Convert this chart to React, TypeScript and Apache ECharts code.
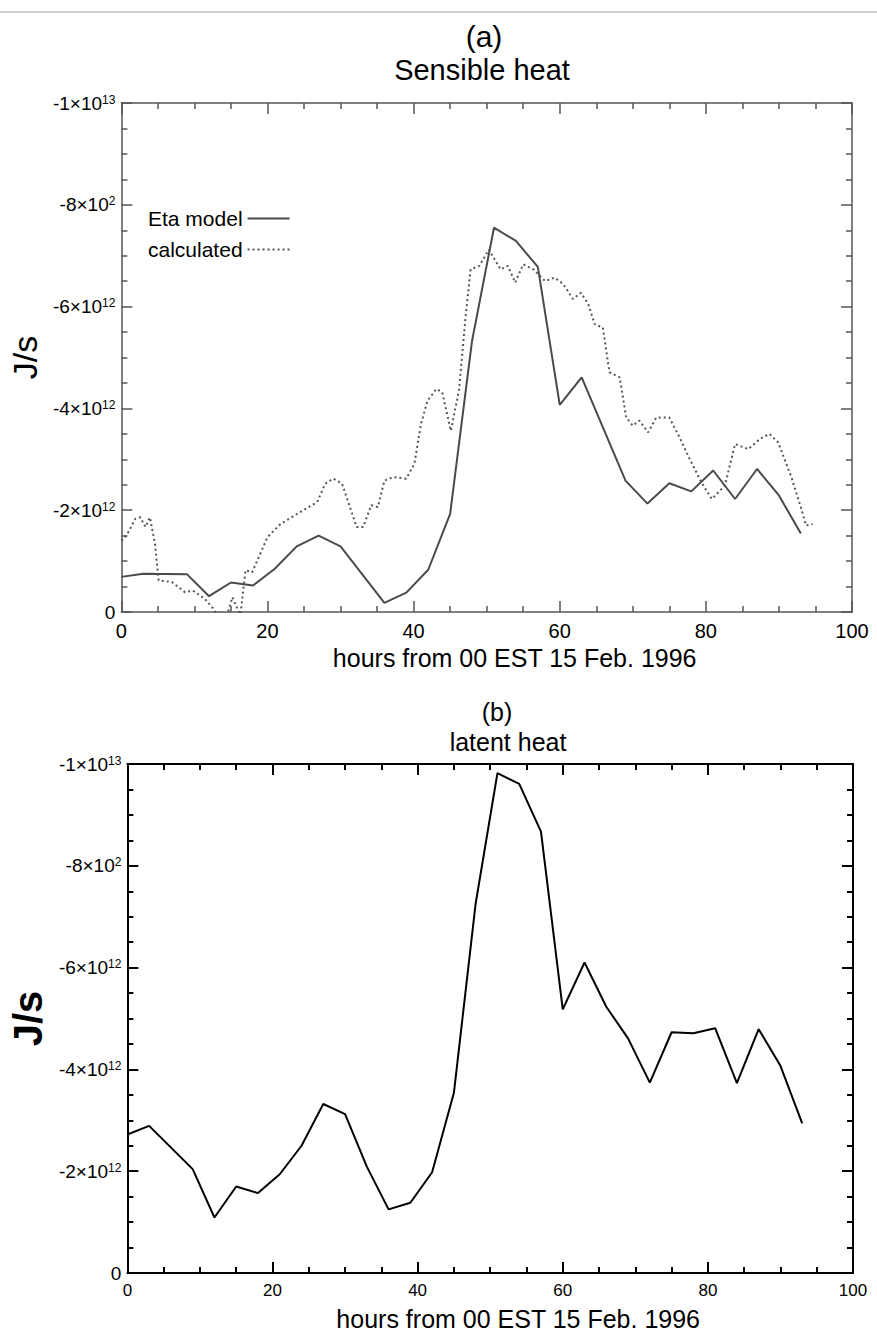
import React, { useEffect, useRef } from "react";
import * as echarts from "echarts";

// ---------- data (J/s) ----------
// (a) Sensible heat — Eta model, hours from 00 EST 15 Feb 1996
const etaHours = [0, 3, 9, 12, 15, 18, 21, 24, 27, 30, 36, 39, 42, 45, 48, 51, 54, 57, 60, 63, 69, 72, 75, 78, 81, 84, 87, 90, 93];
const etaValues = [
  -0.69e12, -0.75e12, -0.74e12, -0.31e12, -0.58e12, -0.52e12, -0.85e12, -1.29e12, -1.5e12, -1.29e12,
  -0.18e12, -0.38e12, -0.83e12, -1.93e12, -5.33e12, -7.55e12, -7.29e12, -6.78e12, -4.07e12, -4.61e12,
  -2.58e12, -2.13e12, -2.53e12, -2.37e12, -2.78e12, -2.22e12, -2.81e12, -2.29e12, -1.54e12,
];

// (a) Sensible heat — calculated
const calcHours = [
  0, 0.7, 1.9, 2.6, 3.3, 3.9, 4.6, 5.1, 6.9, 8.7, 9.8, 11.4, 12.8, 13.7, 14.6, 15.2, 15.9, 16.3, 17.0, 17.9,
  20.0, 21.8, 24.1, 26.8, 27.9, 29.0, 30.2, 32.2, 33.1, 34.2, 35.1, 36.0, 37.2, 39.0, 40.1, 41.0, 41.9, 43.1,
  43.9, 45.1, 46.2, 47.1, 47.8, 49.0, 50.3, 51.9, 52.9, 53.9, 55.0, 56.4, 58.0, 59.3, 60.5, 61.8, 62.9, 63.9,
  64.8, 65.9, 66.8, 68.2, 69.1, 70.0, 70.9, 72.1, 73.2, 75.0, 76.6, 77.9, 79.5, 80.8, 82.6, 84.0, 85.8, 87.4,
  88.7, 89.9, 91.7, 93.0, 93.7, 94.6,
];
const calcValues = [
  -1.4e12, -1.5e12, -1.83e12, -1.86e12, -1.67e12, -1.86e12, -1.34e12, -0.62e12, -0.59e12, -0.39e12,
  -0.42e12, -0.26e12, -0.03e12, 0.3e12, 0.0, -0.29e12, -0.06e12, 0.05e12, -0.82e12, -0.78e12,
  -1.47e12, -1.73e12, -1.93e12, -2.16e12, -2.52e12, -2.62e12, -2.52e12, -1.67e12, -1.67e12, -2.1e12,
  -2.06e12, -2.58e12, -2.65e12, -2.62e12, -2.91e12, -3.69e12, -4.15e12, -4.38e12, -4.32e12, -3.56e12,
  -4.35e12, -5.78e12, -6.73e12, -6.8e12, -7.12e12, -6.73e12, -6.8e12, -6.47e12, -6.83e12, -6.73e12,
  -6.5e12, -6.57e12, -6.44e12, -6.15e12, -6.27e12, -6.05e12, -5.65e12, -5.59e12, -4.71e12, -4.61e12,
  -3.82e12, -3.66e12, -3.76e12, -3.53e12, -3.82e12, -3.82e12, -3.37e12, -2.97e12, -2.52e12, -2.22e12,
  -2.48e12, -3.3e12, -3.2e12, -3.4e12, -3.5e12, -3.33e12, -2.65e12, -2.06e12, -1.7e12, -1.73e12,
];

// (b) latent heat
const latentHours = [0, 3, 9, 12, 15, 18, 21, 24, 27, 30, 33, 36, 39, 42, 45, 48, 51, 54, 57, 60, 63, 66, 69, 72, 75, 78, 81, 84, 87, 90, 93];
const latentValues = [
  -2.72e12, -2.89e12, -2.04e12, -1.09e12, -1.7e12, -1.57e12, -1.94e12, -2.5e12, -3.32e12, -3.12e12,
  -2.09e12, -1.25e12, -1.38e12, -1.98e12, -3.54e12, -7.26e12, -9.82e12, -9.61e12, -8.67e12, -5.18e12,
  -6.1e12, -5.23e12, -4.61e12, -3.74e12, -4.73e12, -4.71e12, -4.81e12, -3.73e12, -4.79e12, -4.07e12,
  -2.94e12,
];

// tick labels
const yTickValues = [0, -2e12, -4e12, -6e12, -8e12, -1e13];
const yTickLabels = ["{n|0}", "{n|-2×10}{s|12}", "{n|-4×10}{s|12}", "{n|-6×10}{s|12}", "{n|-8×10}{s|2}", "{n|-1×10}{s|13}"];
const xTitle = "hours from 00 EST 15 Feb. 1996";
const seriesNames = ["Eta model", "calculated"];

const FONT = "'Liberation Sans', Arial, Helvetica, sans-serif";

function pairs(xs: number[], ys: number[]) {
  return xs.map((x, i) => [x, ys[i]]);
}

function yFormatter(v: number) {
  const i = yTickValues.findIndex((t) => Math.abs(t - v) < 1e9);
  return i >= 0 ? yTickLabels[i] : "";
}

function makeAxes(grid: number, color: string, lw: number, xFont: number, yFont: number, supFont: number, xNameFont: number, yNameFont: number, yNameWeight: string, yNameGap: number) {
  const tickStyle = { color, width: lw };
  const xBase = {
    type: "value",
    gridIndex: grid,
    min: 0,
    max: 100,
    interval: 20,
    splitLine: { show: false },
    axisLine: { show: true, onZero: false, lineStyle: { color, width: lw } },
    axisTick: { show: true, inside: true, length: 11, lineStyle: tickStyle },
    minorTick: { show: true, splitNumber: 4, length: 6, lineStyle: tickStyle },
  };
  const yBase = {
    type: "value",
    gridIndex: grid,
    min: -1e13,
    max: 0,
    interval: 2e12,
    inverse: true,
    splitLine: { show: false },
    axisLine: { show: true, onZero: false, lineStyle: { color, width: lw } },
    axisTick: { show: true, inside: true, length: 11, lineStyle: tickStyle },
    minorTick: { show: true, splitNumber: 4, length: 6, lineStyle: tickStyle },
  };
  const xAxes = [
    {
      ...xBase,
      position: "bottom",
      name: xTitle,
      nameLocation: "middle",
      nameGap: 33,
      nameTextStyle: { fontFamily: FONT, fontSize: xNameFont, color: "#000", padding: [0, 0, 0, 56] },
      axisLabel: { show: true, fontFamily: FONT, fontSize: xFont, color: "#000", margin: 9 },
    },
    { ...xBase, position: "top", axisLabel: { show: false } },
  ];
  const yAxes = [
    {
      ...yBase,
      position: "left",
      name: "J/s",
      nameLocation: "middle",
      nameRotate: 90,
      nameGap: yNameGap,
      nameTextStyle: { fontFamily: FONT, fontSize: yNameFont, fontWeight: yNameWeight, color: "#000" },
      axisLabel: {
        show: true,
        margin: 6,
        formatter: yFormatter,
        rich: {
          n: { fontFamily: FONT, fontSize: yFont, color: "#000" },
          s: { fontFamily: FONT, fontSize: supFont, color: "#000", verticalAlign: "top", padding: [0, 0, yFont - supFont, 0] },
        },
      },
    },
    { ...yBase, position: "right", axisLabel: { show: false } },
  ];
  return { xAxes, yAxes };
}

export default function App() {
  const ref = useRef<HTMLDivElement>(null);
  useEffect(() => {
    document.body.style.margin = "0";
    const chart = echarts.init(ref.current!, null, { renderer: "svg" });
    const a = makeAxes(0, "#555", 1.5, 20, 19, 12, 25, 34, "normal", 66);
    const b = makeAxes(1, "#000", 2, 17, 19, 12, 25, 40, "bold", 78);
    const option: any = {
      animation: false,
      backgroundColor: "#fff",
      grid: [
        { left: 116, top: 103, width: 736, height: 509 },
        { left: 126, top: 764, width: 727, height: 509 },
      ],
      xAxis: [...a.xAxes, ...b.xAxes],
      yAxis: [...a.yAxes, ...b.yAxes],
      legend: {
        show: true,
        data: seriesNames,
        orient: "vertical",
        align: "right",
        left: 143,
        top: 203,
        itemWidth: 42,
        itemHeight: 14,
        itemGap: 10,
        itemStyle: { opacity: 0 },
        textStyle: { fontFamily: FONT, fontSize: 21, color: "#000" },
      },
      graphic: [
        { type: "line", shape: { x1: 0, y1: 12, x2: 877, y2: 12 }, style: { stroke: "#cfcfcf", lineWidth: 2 } },
        { type: "text", x: 484, y: 36, style: { text: "(a)", font: `30px ${FONT}`, fill: "#000", textAlign: "center", textVerticalAlign: "middle" } },
        { type: "text", x: 482, y: 70, style: { text: "Sensible heat", font: `29px ${FONT}`, fill: "#000", textAlign: "center", textVerticalAlign: "middle" } },
        { type: "text", x: 497, y: 712, style: { text: "(b)", font: `25px ${FONT}`, fill: "#000", textAlign: "center", textVerticalAlign: "middle" } },
        { type: "text", x: 508, y: 742, style: { text: "latent heat", font: `25px ${FONT}`, fill: "#000", textAlign: "center", textVerticalAlign: "middle" } },
      ],
      series: [
        {
          name: seriesNames[0],
          type: "line",
          xAxisIndex: 0,
          yAxisIndex: 0,
          data: pairs(etaHours, etaValues),
          symbol: "none",
          clip: true,
          lineStyle: { color: "#4a4a4a", width: 2, type: "solid" },
          itemStyle: { color: "#4a4a4a" },
        },
        {
          name: seriesNames[1],
          type: "line",
          xAxisIndex: 0,
          yAxisIndex: 0,
          data: pairs(calcHours, calcValues),
          symbol: "none",
          clip: true,
          lineStyle: { color: "#555", width: 2, type: [2, 3] },
          itemStyle: { color: "#555" },
        },
        {
          name: "latent heat",
          type: "line",
          xAxisIndex: 2,
          yAxisIndex: 2,
          data: pairs(latentHours, latentValues),
          symbol: "none",
          clip: true,
          lineStyle: { color: "#000", width: 2 },
          itemStyle: { color: "#000" },
        },
      ],
    };
    chart.setOption(option);
    return () => chart.dispose();
  }, []);
  return <div ref={ref} style={{ position: "absolute", left: 0, top: 0, width: 877, height: 1333 }} />;
}
